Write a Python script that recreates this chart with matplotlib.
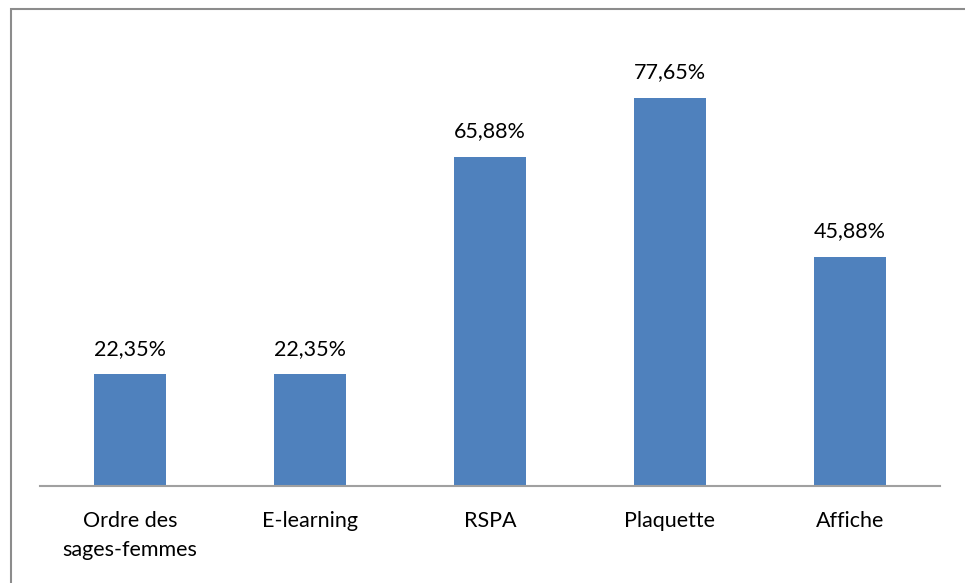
import matplotlib
matplotlib.use("Agg")
import matplotlib.pyplot as plt
from matplotlib.patches import Rectangle

categories = ["Ordre des\nsages-femmes", "E-learning", "RSPA", "Plaquette", "Affiche"]
values = [22.35, 22.35, 65.88, 77.65, 45.88]
labels = ["22,35%", "22,35%", "65,88%", "77,65%", "45,88%"]

W, H = 965, 583
fig = plt.figure(figsize=(W / 100, H / 100), dpi=100)
plt.rcParams['font.family'] = ['Lato', 'DejaVu Sans']

ax = fig.add_axes([40 / W, (H - 486) / H, 900 / W, 450 / H])
x = range(len(categories))
bars = ax.bar(x, values, width=0.4, color="#4F81BD", zorder=2)
ax.set_xlim(-0.5, 4.5)
ax.set_ylim(0, 90)
for xi, v, lab in zip(x, values, labels):
    ax.annotate(lab, (xi, v), xytext=(0, 11), textcoords="offset points",
                ha="center", va="bottom", fontsize=15.5, color="black")
ax.set_xticks(list(x))
ax.set_xticklabels(categories, fontsize=15.5, linespacing=1.55)
ax.tick_params(axis="x", length=0, pad=18)
ax.set_yticks([])
for s in ["top", "right", "left"]:
    ax.spines[s].set_visible(False)
ax.spines["bottom"].set_color("#A0A0A0")
ax.spines["bottom"].set_linewidth(1.5)

fig.patches.append(Rectangle((10.5 / W, -0.1), 2.0, (H - 8.5) / H + 0.1,
                             transform=fig.transFigure, fill=False,
                             edgecolor="#8C8C8C", linewidth=1.5))
fig.savefig("out.png", dpi=100)
